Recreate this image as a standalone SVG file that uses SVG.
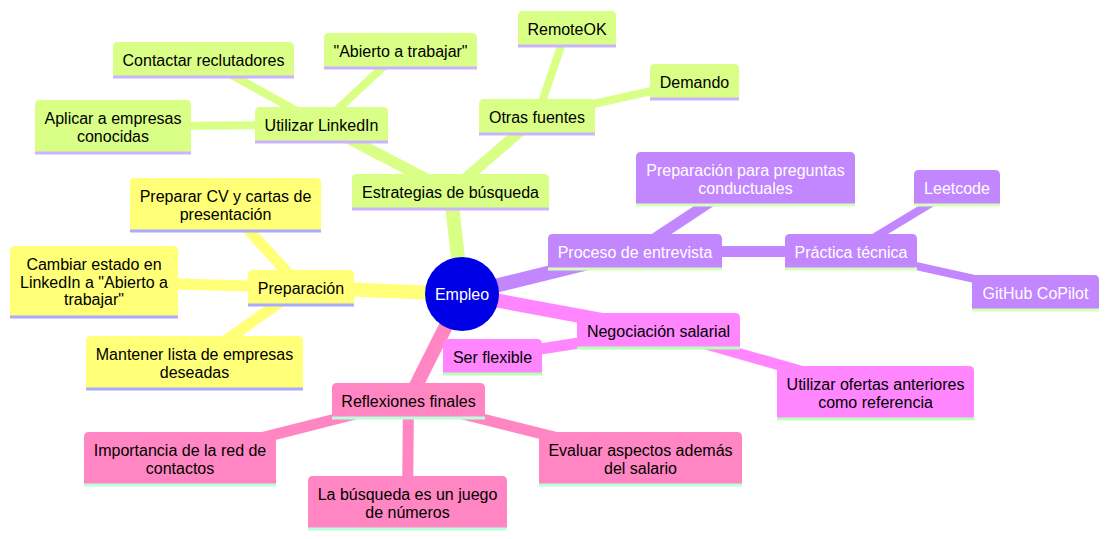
<svg xmlns="http://www.w3.org/2000/svg" width="1109" height="539" viewBox="0 0 1109 539">
<style>
text{font-family:"Liberation Sans",Arial,sans-serif;font-size:16px;text-anchor:middle;fill:#000}
.e{fill:none;stroke-linecap:butt}
.d1{stroke-width:14}.d2{stroke-width:11}.d3{stroke-width:8}
.cy{stroke:#ffff78}.cg{stroke:#d9ff86}.cp{stroke:#c286ff}.cm{stroke:#ff86ff}.ck{stroke:#ff86c2}
.ny path{fill:#ffff78}.ny line{stroke:#aaaaff;stroke-width:3}
.ng path{fill:#d9ff86}.ng line{stroke:#cbb4ff;stroke-width:3}
.np path{fill:#c286ff}.np line{stroke:#d6ffb9;stroke-width:3}.np text{fill:#fff}
.nm path{fill:#ff86ff}.nm line{stroke:#b9ffb9;stroke-width:3}
.nk path{fill:#ff86c2}.nk line{stroke:#b9ffdc;stroke-width:3}
</style>
<g id="connectors">
<line class="e d1 cg" x1="462" y1="294" x2="450.5" y2="191.5"/>
<line class="e d2 cg" x1="450.5" y1="191.5" x2="321.5" y2="124.5"/>
<line class="e d2 cg" x1="450.5" y1="191.5" x2="537" y2="116.5"/>
<line class="e d3 cg" x1="321.5" y1="124.5" x2="203.5" y2="59.5"/>
<line class="e d3 cg" x1="321.5" y1="124.5" x2="400.5" y2="50.5"/>
<line class="e d3 cg" x1="321.5" y1="124.5" x2="113" y2="126.5"/>
<line class="e d3 cg" x1="537" y1="116.5" x2="567" y2="28.5"/>
<line class="e d3 cg" x1="537" y1="116.5" x2="694.5" y2="81.5"/>
<line class="e d1 cy" x1="462" y1="294" x2="301" y2="287.5"/>
<line class="e d2 cy" x1="301" y1="287.5" x2="225.5" y2="204.5"/>
<line class="e d2 cy" x1="301" y1="287.5" x2="94" y2="281.5"/>
<line class="e d2 cy" x1="301" y1="287.5" x2="194.5" y2="362.5"/>
<line class="e d1 cp" x1="462" y1="294" x2="635" y2="251.5"/>
<line class="e d2 cp" x1="635" y1="251.5" x2="745.5" y2="178.5"/>
<line class="e d2 cp" x1="635" y1="251.5" x2="851" y2="251.5"/>
<line class="e d3 cp" x1="851" y1="251.5" x2="957" y2="187.5"/>
<line class="e d3 cp" x1="851" y1="251.5" x2="1035.5" y2="292.5"/>
<line class="e d1 cm" x1="462" y1="294" x2="658.5" y2="330.5"/>
<line class="e d2 cm" x1="658.5" y1="330.5" x2="492.5" y2="356.5"/>
<line class="e d2 cm" x1="658.5" y1="330.5" x2="875.5" y2="392.5"/>
<line class="e d1 ck" x1="462" y1="294" x2="408.5" y2="400.5"/>
<line class="e d2 ck" x1="408.5" y1="400.5" x2="180" y2="458.5"/>
<line class="e d2 ck" x1="408.5" y1="400.5" x2="407.5" y2="502.5"/>
<line class="e d2 ck" x1="408.5" y1="400.5" x2="640.5" y2="458.5"/>
</g>
<g id="root"><circle cx="462" cy="294" r="37" fill="#0000e6"/><text x="462" y="300" style="fill:#fff">Empleo</text></g>
<g id="estrategias" class="ng"><path d="M352,209V179Q352,174 357,174H544Q549,174 549,179V209Z"/><line x1="352" y1="209" x2="549" y2="209"/><text x="450.5" y="198">Estrategias de búsqueda</text></g>
<g id="linkedin" class="ng"><path d="M255,142V112Q255,107 260,107H383Q388,107 388,112V142Z"/><line x1="255" y1="142" x2="388" y2="142"/><text x="321.5" y="131">Utilizar LinkedIn</text></g>
<g id="contactar" class="ng"><path d="M113,77V47Q113,42 118,42H289Q294,42 294,47V77Z"/><line x1="113" y1="77" x2="294" y2="77"/><text x="203.5" y="66">Contactar reclutadores</text></g>
<g id="abierto" class="ng"><path d="M324,68V38Q324,33 329,33H472Q477,33 477,38V68Z"/><line x1="324" y1="68" x2="477" y2="68"/><text x="400.5" y="57">"Abierto a trabajar"</text></g>
<g id="aplicar" class="ng"><path d="M35,153V105Q35,100 40,100H186Q191,100 191,105V153Z"/><line x1="35" y1="153" x2="191" y2="153"/><text x="113" y="124">Aplicar a empresas</text><text x="113" y="141.6">conocidas</text></g>
<g id="otras" class="ng"><path d="M479,134V104Q479,99 484,99H590Q595,99 595,104V134Z"/><line x1="479" y1="134" x2="595" y2="134"/><text x="537" y="123">Otras fuentes</text></g>
<g id="remoteok" class="ng"><path d="M518,46V16Q518,11 523,11H611Q616,11 616,16V46Z"/><line x1="518" y1="46" x2="616" y2="46"/><text x="567" y="35">RemoteOK</text></g>
<g id="demando" class="ng"><path d="M650,99V69Q650,64 655,64H734Q739,64 739,69V99Z"/><line x1="650" y1="99" x2="739" y2="99"/><text x="694.5" y="88">Demando</text></g>
<g id="preparacion" class="ny"><path d="M248,305V275Q248,270 253,270H349Q354,270 354,275V305Z"/><line x1="248" y1="305" x2="354" y2="305"/><text x="301" y="294">Preparación</text></g>
<g id="prepcv" class="ny"><path d="M130,231V183Q130,178 135,178H316Q321,178 321,183V231Z"/><line x1="130" y1="231" x2="321" y2="231"/><text x="225.5" y="202">Preparar CV y cartas de</text><text x="225.5" y="219.6">presentación</text></g>
<g id="cambiar" class="ny"><path d="M10,317V251Q10,246 15,246H173Q178,246 178,251V317Z"/><line x1="10" y1="317" x2="178" y2="317"/><text x="94" y="270">Cambiar estado en</text><text x="94" y="287.6">LinkedIn a "Abierto a</text><text x="94" y="305.2">trabajar"</text></g>
<g id="mantener" class="ny"><path d="M86,389V341Q86,336 91,336H298Q303,336 303,341V389Z"/><line x1="86" y1="389" x2="303" y2="389"/><text x="194.5" y="360">Mantener lista de empresas</text><text x="194.5" y="377.6">deseadas</text></g>
<g id="proceso" class="np"><path d="M548,269V239Q548,234 553,234H717Q722,234 722,239V269Z"/><line x1="548" y1="269" x2="722" y2="269"/><text x="635" y="258">Proceso de entrevista</text></g>
<g id="preguntas" class="np"><path d="M636,205V157Q636,152 641,152H850Q855,152 855,157V205Z"/><line x1="636" y1="205" x2="855" y2="205"/><text x="745.5" y="176">Preparación para preguntas</text><text x="745.5" y="193.6">conductuales</text></g>
<g id="practica" class="np"><path d="M785,269V239Q785,234 790,234H912Q917,234 917,239V269Z"/><line x1="785" y1="269" x2="917" y2="269"/><text x="851" y="258">Práctica técnica</text></g>
<g id="leetcode" class="np"><path d="M914,205V175Q914,170 919,170H995Q1000,170 1000,175V205Z"/><line x1="914" y1="205" x2="1000" y2="205"/><text x="957" y="194">Leetcode</text></g>
<g id="github" class="np"><path d="M972,310V280Q972,275 977,275H1094Q1099,275 1099,280V310Z"/><line x1="972" y1="310" x2="1099" y2="310"/><text x="1035.5" y="299">GitHub CoPilot</text></g>
<g id="negociacion" class="nm"><path d="M577,348V318Q577,313 582,313H735Q740,313 740,318V348Z"/><line x1="577" y1="348" x2="740" y2="348"/><text x="658.5" y="337">Negociación salarial</text></g>
<g id="flexible" class="nm"><path d="M443,374V344Q443,339 448,339H537Q542,339 542,344V374Z"/><line x1="443" y1="374" x2="542" y2="374"/><text x="492.5" y="363">Ser flexible</text></g>
<g id="ofertas" class="nm"><path d="M777,419V371Q777,366 782,366H969Q974,366 974,371V419Z"/><line x1="777" y1="419" x2="974" y2="419"/><text x="875.5" y="390">Utilizar ofertas anteriores</text><text x="875.5" y="407.6">como referencia</text></g>
<g id="reflexiones" class="nk"><path d="M332,418V388Q332,383 337,383H480Q485,383 485,388V418Z"/><line x1="332" y1="418" x2="485" y2="418"/><text x="408.5" y="407">Reflexiones finales</text></g>
<g id="importancia" class="nk"><path d="M84,485V437Q84,432 89,432H271Q276,432 276,437V485Z"/><line x1="84" y1="485" x2="276" y2="485"/><text x="180" y="456">Importancia de la red de</text><text x="180" y="473.6">contactos</text></g>
<g id="busqueda" class="nk"><path d="M308,529V481Q308,476 313,476H502Q507,476 507,481V529Z"/><line x1="308" y1="529" x2="507" y2="529"/><text x="407.5" y="500">La búsqueda es un juego</text><text x="407.5" y="517.6">de números</text></g>
<g id="evaluar" class="nk"><path d="M539,485V437Q539,432 544,432H737Q742,432 742,437V485Z"/><line x1="539" y1="485" x2="742" y2="485"/><text x="640.5" y="456">Evaluar aspectos además</text><text x="640.5" y="473.6">del salario</text></g>
</svg>
